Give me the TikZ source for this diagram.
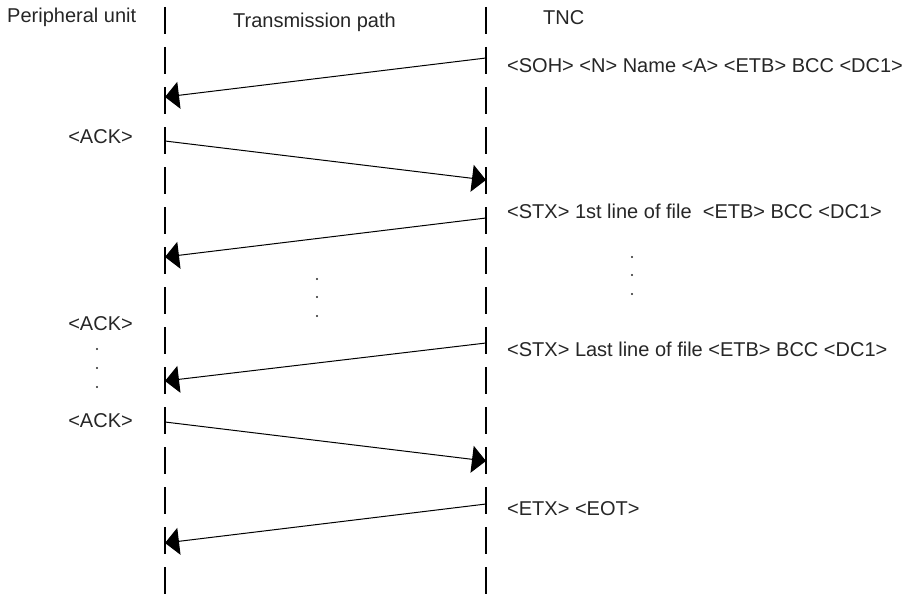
\documentclass[tikz,border=0pt]{standalone}
\usepackage{fontspec}
\setmainfont{Liberation Sans}
\usetikzlibrary{arrows.meta}
\begin{document}
\begin{tikzpicture}[x=1pt,y=-1pt,
  lifeline/.style={line width=2.6pt,dash pattern=on 27pt off 13pt},
  msg/.style={line width=1pt,-{Triangle[length=14pt,width=27pt]}},
  lbl/.style={inner sep=0pt,text=black!85,font=\fontsize{20pt}{24pt}\selectfont},
  dotn/.style={circle,fill=black!85,inner sep=0pt,minimum size=2.2pt}]
\useasboundingbox (0,0) rectangle (912,594);
% lifelines
\coordinate (Ltop) at (165,7);
\coordinate (Lbot) at (165,594);
\coordinate (Rtop) at (486,7);
\coordinate (Rbot) at (486,594);
\draw[lifeline] (Ltop) -- (Lbot);
\draw[lifeline] (Rtop) -- (Rbot);
% headings
\node[lbl,anchor=base west] (hp) at (7,23) {Peripheral unit};
\node[lbl,anchor=base] (ht) at (314.5,28) {Transmission path};
\node[lbl,anchor=base west] (hn) at (543,25) {TNC};
% message endpoints
\coordinate (r1) at (486,58);  \coordinate (l1) at (165,97);
\coordinate (l2) at (165,141); \coordinate (r2) at (486,180);
\coordinate (r3) at (486,218); \coordinate (l3) at (165,257);
\coordinate (r4) at (486,343); \coordinate (l4) at (165,381);
\coordinate (l5) at (165,422); \coordinate (r5) at (486,461);
\coordinate (r6) at (486,504); \coordinate (l6) at (165,543);
\draw[msg] (r1) -- (l1);
\draw[msg] (l2) -- (r2);
\draw[msg] (r3) -- (l3);
\draw[msg] (r4) -- (l4);
\draw[msg] (l5) -- (r5);
\draw[msg] (r6) -- (l6);
% TNC texts
\node[lbl,anchor=base west] (t1) at (507,73) {<SOH> <N> Name <A> <ETB> BCC <DC1>};
\node[lbl,anchor=base west] (t2) at (507,218) {<STX> 1st line of file \ <ETB> BCC <DC1>};
\node[lbl,anchor=base west] (t3) at (507,356) {<STX> Last line of file <ETB> BCC <DC1>};
\node[lbl,anchor=base west] (t4) at (507,515) {<ETX> <EOT>};
% peripheral texts
\node[lbl,anchor=base east] (a1) at (133,143) {<ACK>};
\node[lbl,anchor=base east] (a2) at (133,330) {<ACK>};
\node[lbl,anchor=base east] (a3) at (133,427) {<ACK>};
% dots
\node[dotn] (pd1) at (97,349) {};
\node[dotn] (pd2) at (97,368) {};
\node[dotn] (pd3) at (97,387) {};
\node[dotn] (md1) at (317,279) {};
\node[dotn] (md2) at (317,297) {};
\node[dotn] (md3) at (317,316) {};
\node[dotn] (nd1) at (632,257) {};
\node[dotn] (nd2) at (632,275) {};
\node[dotn] (nd3) at (632,294) {};
\end{tikzpicture}
\end{document}
